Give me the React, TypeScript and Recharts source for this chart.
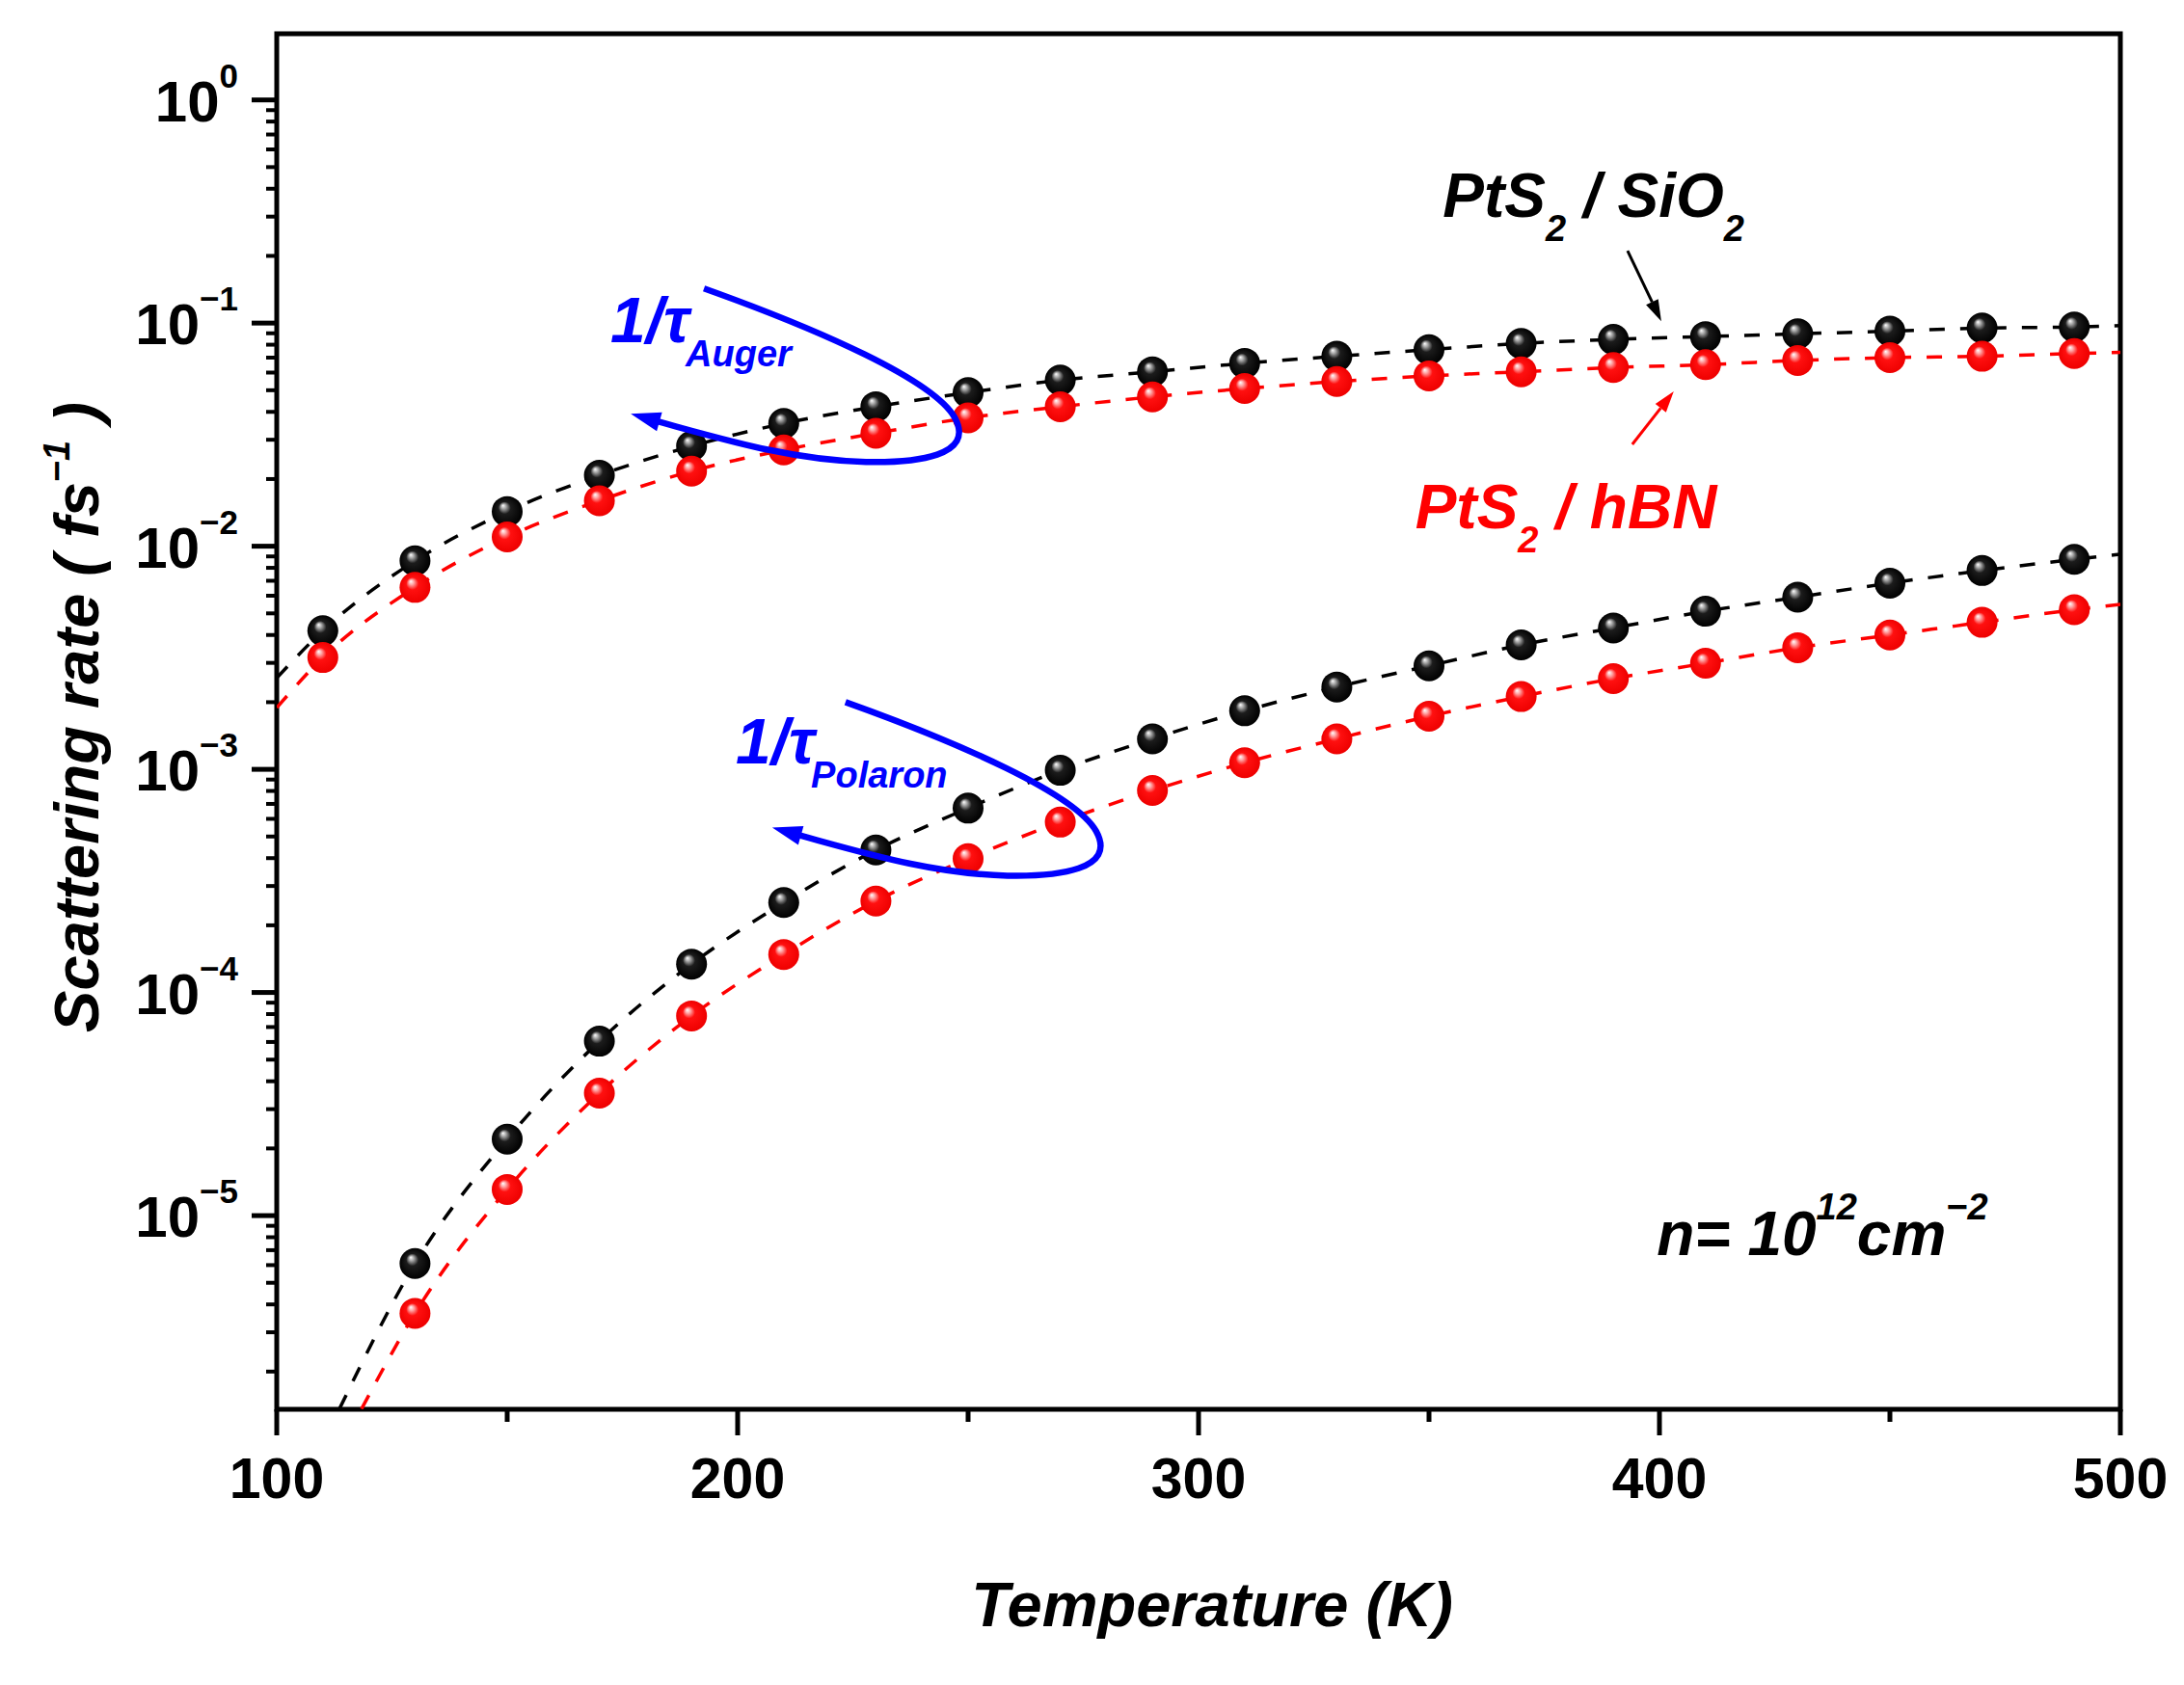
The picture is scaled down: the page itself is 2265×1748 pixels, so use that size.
import React from 'react';
import { ComposedChart, Line, Scatter, XAxis, YAxis, ReferenceArea, ReferenceDot } from 'recharts';

const FONT = "'Liberation Sans', Arial, Helvetica, sans-serif";
const BLUE = '#0000ff';
const RED = '#ff0000';

const Y_MIN = 1.355e-6;
const Y_MAX = 1.98;

// temperatures (K)
const augerTemps = [110, 130, 150, 170, 190, 210, 230, 250, 270, 290, 310, 330, 350, 370, 390, 410, 430, 450, 470, 490];
const polaronTemps = [130, 150, 170, 190, 210, 230, 250, 270, 290, 310, 330, 350, 370, 390, 410, 430, 450, 470, 490];

// scattering rates (fs^-1)
const augerSiO2 = [4.18e-3, 8.6e-3, 1.43e-2, 2.08e-2, 2.81e-2, 3.55e-2, 4.22e-2, 4.88e-2, 5.55e-2, 6.05e-2, 6.6e-2, 7.1e-2, 7.6e-2, 8.1e-2, 8.45e-2, 8.7e-2, 8.95e-2, 9.2e-2, 9.5e-2, 9.6e-2];
const augerHBN = [3.17e-3, 6.54e-3, 1.1e-2, 1.6e-2, 2.17e-2, 2.7e-2, 3.21e-2, 3.76e-2, 4.22e-2, 4.67e-2, 5.09e-2, 5.47e-2, 5.8e-2, 6.05e-2, 6.32e-2, 6.51e-2, 6.8e-2, 7.0e-2, 7.1e-2, 7.3e-2];
const polaronSiO2 = [6.1e-6, 2.2e-5, 6.05e-5, 1.34e-4, 2.53e-4, 4.35e-4, 6.7e-4, 9.9e-4, 1.37e-3, 1.83e-3, 2.34e-3, 2.91e-3, 3.61e-3, 4.3e-3, 5.11e-3, 5.91e-3, 6.83e-3, 7.78e-3, 8.73e-3];
const polaronHBN = [3.65e-6, 1.31e-5, 3.54e-5, 7.85e-5, 1.48e-4, 2.57e-4, 3.98e-4, 5.8e-4, 8.04e-4, 1.07e-3, 1.37e-3, 1.73e-3, 2.12e-3, 2.55e-3, 2.99e-3, 3.51e-3, 4.0e-3, 4.56e-3, 5.19e-3];

// dashed fit curves: ends (where curves meet the frame)
const augerSiO2FitStart = { x: 100, y: 2.57e-3 };
const augerSiO2FitEnd = { x: 500, y: 9.75e-2 };
const augerHBNFitStart = { x: 100, y: 1.89e-3 };
const augerHBNFitEnd = { x: 500, y: 7.4e-2 };
const polaronSiO2FitStart = { x: 113.6, y: 1.36e-6 };
const polaronSiO2FitEnd = { x: 500, y: 9.2e-3 };
const polaronHBNFitStart = { x: 118.4, y: 1.36e-6 };
const polaronHBNFitEnd = { x: 500, y: 5.48e-3 };

// ticks
const xTicks = [100, 150, 200, 250, 300, 350, 400, 450, 500];
const yDecades = [1e-6, 1e-5, 1e-4, 1e-3, 1e-2, 1e-1, 1];
const yMinorMultipliers = [2, 3, 4, 5, 6, 7, 8, 9];

// annotation anchors (data coordinates)
const labelSiO2 = { x: 353, y: 0.3 };
const labelHBN = { x: 347, y: 0.012 };
const arrowSiO2Tip = { x: 400.4, y: 0.102 };
const arrowHBNTip = { x: 403.1, y: 0.0494 };
const labelAuger = { x: 172.4, y: 0.082 };
const loopAuger = { x: 192.7, y: 0.143 };
const labelPolaron = { x: 199.6, y: 1.06e-3 };
const loopPolaron = { x: 223.4, y: 2.0e-3 };
const labelDensity = { x: 399.4, y: 6.65e-6 };

const toPoints = (xs: number[], ys: number[]) => xs.map((x, i) => ({ x, y: ys[i] }));

const augerSiO2Pts = toPoints(augerTemps, augerSiO2);
const augerHBNPts = toPoints(augerTemps, augerHBN);
const polaronSiO2Pts = toPoints(polaronTemps, polaronSiO2);
const polaronHBNPts = toPoints(polaronTemps, polaronHBN);

const augerSiO2Fit = [augerSiO2FitStart, ...augerSiO2Pts, augerSiO2FitEnd];
const augerHBNFit = [augerHBNFitStart, ...augerHBNPts, augerHBNFitEnd];
const polaronSiO2Fit = [polaronSiO2FitStart, ...polaronSiO2Pts, polaronSiO2FitEnd];
const polaronHBNFit = [polaronHBNFitStart, ...polaronHBNPts, polaronHBNFitEnd];

const yTicks = [
  ...yDecades.filter((d) => d >= Y_MIN && d <= Y_MAX),
  ...yDecades.flatMap((d) => yMinorMultipliers.map((m) => m * d)).filter((v) => v > Y_MIN && v < Y_MAX),
].sort((a, b) => a - b);

const YTick = (props: any) => {
  const { x, y, payload } = props;
  const v = payload.value as number;
  const lg = Math.log10(v);
  const e = Math.round(lg);
  const major = Math.abs(lg - e) < 1e-6;
  if (!major) {
    return <line x1={x - 11} x2={x} y1={y} y2={y} stroke="#000" strokeWidth={4} />;
  }
  return (
    <g>
      <line x1={x - 26} x2={x} y1={y} y2={y} stroke="#000" strokeWidth={5} />
      <text x={x - 40} y={y + 22} textAnchor="end" fontFamily={FONT} fontWeight="bold" fontSize={60} fill="#000">
        10
        <tspan fontSize={35} dy={-35}>
          {e === 0 ? '0' : '\u2212' + Math.abs(e)}
        </tspan>
      </text>
    </g>
  );
};

const XTick = (props: any) => {
  const { x, y, payload } = props;
  const v = payload.value as number;
  const major = v % 100 === 0;
  return (
    <g>
      <line x1={x} x2={x} y1={y} y2={y + (major ? 27 : 13)} stroke="#000" strokeWidth={5} />
      {major && (
        <text x={x} y={y + 92} textAnchor="middle" fontFamily={FONT} fontWeight="bold" fontSize={59} fill="#000">
          {v}
        </text>
      )}
    </g>
  );
};

const Sphere = ({ cx, cy, kind }: { cx: number; cy: number; kind: 'black' | 'red' }) => {
  const id = kind === 'black' ? 'sphereBlack' : 'sphereRed';
  return (
    <g>
      <defs>
        {kind === 'black' ? (
          <radialGradient id={id} cx="0.5" cy="0.5" r="0.5" fx="0.36" fy="0.3">
            <stop offset="0" stopColor="#ffffff" />
            <stop offset="0.16" stopColor="#a8a8a8" />
            <stop offset="0.4" stopColor="#1c1c1c" />
            <stop offset="1" stopColor="#000000" />
          </radialGradient>
        ) : (
          <radialGradient id={id} cx="0.5" cy="0.5" r="0.5" fx="0.36" fy="0.3">
            <stop offset="0" stopColor="#ffffff" />
            <stop offset="0.16" stopColor="#ffa8a8" />
            <stop offset="0.4" stopColor="#ff1010" />
            <stop offset="1" stopColor="#ee0000" />
          </radialGradient>
        )}
      </defs>
      <circle cx={cx} cy={cy} r={16} fill={`url(#${id})`} />
    </g>
  );
};

const blackShape = (p: any) => <Sphere cx={p.cx} cy={p.cy} kind="black" />;
const redShape = (p: any) => <Sphere cx={p.cx} cy={p.cy} kind="red" />;

const Arrow = ({ cx, cy, dx, dy, color }: { cx: number; cy: number; dx: number; dy: number; color: string }) => {
  // tip at (cx, cy), tail at (cx+dx, cy+dy)
  const len = Math.hypot(dx, dy);
  const ux = -dx / len;
  const uy = -dy / len;
  const head = 22;
  const half = 7;
  const bx = cx - ux * head;
  const by = cy - uy * head;
  const nx = -uy;
  const ny = ux;
  return (
    <g>
      <line x1={cx + dx} y1={cy + dy} x2={bx} y2={by} stroke={color} strokeWidth={3} />
      <polygon
        points={`${cx},${cy} ${bx + nx * half},${by + ny * half} ${bx - nx * half},${by - ny * half}`}
        fill={color}
      />
    </g>
  );
};

const Loop = ({ cx, cy }: { cx: number; cy: number }) => (
  <g transform={`translate(${cx},${cy})`}>
    <path
      d="M0,0 C120,43 238,95 260,134 C282,174 220,181 168,180 C90,178 18,156 -48,138"
      fill="none"
      stroke={BLUE}
      strokeWidth={6.5}
    />
    <polygon points="-76,130 -43.5,128.5 -49,148" fill={BLUE} />
  </g>
);

const textBase = { fontFamily: FONT, fontWeight: 'bold' as const, fontStyle: 'italic' as const };

const SiO2Label = ({ cx, cy }: any) => (
  <text x={cx} y={cy} fontSize={64} fill="#000" {...textBase}>
    PtS
    <tspan fontSize={38} dy={25}>2</tspan>
    <tspan dy={-25}>{' / SiO'}</tspan>
    <tspan fontSize={38} dy={25}>2</tspan>
  </text>
);

const HBNLabel = ({ cx, cy }: any) => (
  <text x={cx} y={cy} fontSize={64} fill={RED} {...textBase}>
    PtS
    <tspan fontSize={38} dy={25}>2</tspan>
    <tspan dy={-25}>{' / hBN'}</tspan>
  </text>
);

const TauLabel = ({ cx, cy, sub }: any) => (
  <text x={cx} y={cy} fontSize={66} fill={BLUE} {...textBase}>
    {'1/\u03c4'}
    <tspan fontSize={38} dy={25} dx={-4}>{sub}</tspan>
  </text>
);

const DensityLabel = ({ cx, cy }: any) => (
  <text x={cx} y={cy} fontSize={64} fill="#000" {...textBase}>
    {'n= 10'}
    <tspan fontSize={38} dy={-37}>12</tspan>
    <tspan dy={37}>cm</tspan>
    <tspan fontSize={38} dy={-37}>{'\u22122'}</tspan>
  </text>
);

const lineCommon = {
  type: 'monotone' as const,
  dataKey: 'y',
  strokeWidth: 3.5,
  strokeDasharray: '16 16',
  dot: false,
  activeDot: false,
  isAnimationActive: false,
  legendType: 'none' as const,
};

export default function App() {
  return (
    <div style={{ position: 'absolute', left: 0, top: 0, width: 2265, height: 1748, background: '#fff' }}>
      <ComposedChart width={2265} height={1748} margin={{ top: 35, right: 66, left: 0, bottom: 0 }}>
        <XAxis
          type="number"
          dataKey="x"
          domain={[100, 500]}
          ticks={xTicks}
          interval={0}
          height={286}
          axisLine={false}
          tickLine={false}
          tickSize={0}
          tickMargin={0}
          tick={XTick}
          allowDataOverflow
        />
        <YAxis
          type="number"
          dataKey="y"
          scale="log"
          domain={[Y_MIN, Y_MAX]}
          ticks={yTicks}
          interval={0}
          width={287}
          axisLine={false}
          tickLine={false}
          tickSize={0}
          tickMargin={0}
          tick={YTick}
          allowDataOverflow
        />
        <Line {...lineCommon} data={augerSiO2Fit} stroke="#000" />
        <Line {...lineCommon} data={augerHBNFit} stroke={RED} />
        <Line {...lineCommon} data={polaronSiO2Fit} stroke="#000" />
        <Line {...lineCommon} data={polaronHBNFit} stroke={RED} />
        <Scatter data={augerSiO2Pts} shape={blackShape} isAnimationActive={false} />
        <Scatter data={polaronSiO2Pts} shape={blackShape} isAnimationActive={false} />
        <Scatter data={augerHBNPts} shape={redShape} isAnimationActive={false} />
        <Scatter data={polaronHBNPts} shape={redShape} isAnimationActive={false} />
        <ReferenceArea
          x1={100}
          x2={500}
          y1={Y_MIN}
          y2={Y_MAX}
          fill="none"
          fillOpacity={0}
          stroke="#000"
          strokeWidth={5}
          ifOverflow="visible"
        />
        <ReferenceDot x={loopAuger.x} y={loopAuger.y} r={1} ifOverflow="visible" shape={(p: any) => <Loop cx={p.cx} cy={p.cy} />} />
        <ReferenceDot x={loopPolaron.x} y={loopPolaron.y} r={1} ifOverflow="visible" shape={(p: any) => <Loop cx={p.cx} cy={p.cy} />} />
        <ReferenceDot x={labelAuger.x} y={labelAuger.y} r={1} ifOverflow="visible" shape={(p: any) => <TauLabel cx={p.cx} cy={p.cy} sub="Auger" />} />
        <ReferenceDot x={labelPolaron.x} y={labelPolaron.y} r={1} ifOverflow="visible" shape={(p: any) => <TauLabel cx={p.cx} cy={p.cy} sub="Polaron" />} />
        <ReferenceDot x={labelSiO2.x} y={labelSiO2.y} r={1} ifOverflow="visible" shape={(p: any) => <SiO2Label cx={p.cx} cy={p.cy} />} />
        <ReferenceDot x={labelHBN.x} y={labelHBN.y} r={1} ifOverflow="visible" shape={(p: any) => <HBNLabel cx={p.cx} cy={p.cy} />} />
        <ReferenceDot x={arrowSiO2Tip.x} y={arrowSiO2Tip.y} r={1} ifOverflow="visible" shape={(p: any) => <Arrow cx={p.cx} cy={p.cy} dx={-35} dy={-73} color="#000" />} />
        <ReferenceDot x={arrowHBNTip.x} y={arrowHBNTip.y} r={1} ifOverflow="visible" shape={(p: any) => <Arrow cx={p.cx} cy={p.cy} dx={-43} dy={55} color={RED} />} />
        <ReferenceDot x={labelDensity.x} y={labelDensity.y} r={1} ifOverflow="visible" shape={(p: any) => <DensityLabel cx={p.cx} cy={p.cy} />} />
      </ComposedChart>
      <svg width={2265} height={1748} style={{ position: 'absolute', left: 0, top: 0, pointerEvents: 'none' }}>
        <text
          x={102}
          y={744}
          transform="rotate(-90 102 744)"
          textAnchor="middle"
          fontSize={65}
          fill="#000"
          {...textBase}
        >
          {'Scattering rate ( fs'}
          <tspan fontSize={38} dy={-30}>{'\u22121'}</tspan>
          <tspan dy={30}>{' )'}</tspan>
        </text>
        <text x={1257} y={1687} textAnchor="middle" fontSize={65} fill="#000" {...textBase}>
          Temperature (K)
        </text>
      </svg>
    </div>
  );
}
